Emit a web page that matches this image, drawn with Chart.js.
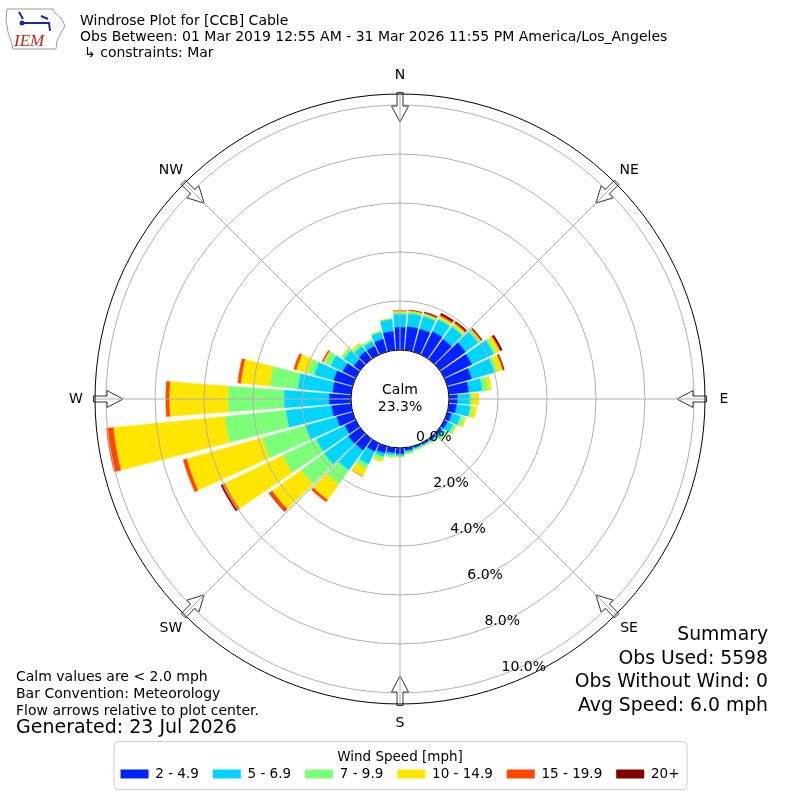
<!DOCTYPE html>
<html lang="en">
<head>
<meta charset="UTF-8">
<title>Windrose Plot for [CCB] Cable</title>
<script src="https://cdn.jsdelivr.net/npm/chart.js"></script>
<style>
  html, body { margin: 0; padding: 0; background: #fff; }
</style>
</head>
<body>
<canvas id="rose" width="800" height="800"></canvas>
<script>
  // direction bins (degrees, bar centres) and speed classes
  const directions = [0, 10, 20, 30, 40, 50, 60, 70, 80, 90, 100, 110, 120, 130, 140, 150, 160, 170,
                      180, 190, 200, 210, 220, 230, 240, 250, 260, 270, 280, 290, 300, 310, 320, 330, 340, 350];
  const speedBins = ['2 - 4.9', '5 - 6.9', '7 - 9.9', '10 - 14.9', '15 - 19.9', '20+'];
  const binColors = ['#0022ff', '#00d4ff', '#7cff79', '#ffe600', '#ff4700', '#800000'];

  // frequency (%) per direction, one array per speed class
  const spd2to5   = [0.92, 0.96, 0.96, 1.05, 1.00, 1.29, 1.25, 1.03, 0.81, 0.34, 0.31, 0.18, 0.14, 0.10, 0.08, 0.06, 0.06, 0.10,
                     0.23, 0.20, 0.29, 0.37, 0.57, 0.59, 0.49, 0.68, 0.79, 0.88, 0.75, 0.80, 0.58, 0.31, 0.39, 0.39, 0.53, 0.77];
  const spd5to7   = [0.53, 0.53, 0.53, 0.53, 0.62, 0.62, 0.98, 0.96, 0.55, 0.50, 0.55, 0.37, 0.25, 0.16, 0.06, 0.04, 0.04, 0.08,
                     0.08, 0.10, 0.14, 0.58, 1.00, 1.21, 1.29, 1.31, 1.87, 1.84, 1.43, 0.82, 0.55, 0.49, 0.25, 0.21, 0.29, 0.48];
  const spd7to10  = [0.08, 0.08, 0.08, 0.08, 0.08, 0.08, 0.12, 0.14, 0.24, 0.11, 0.10, 0.16, 0.12, 0.08, 0.06, 0.04, 0.06, 0.06,
                     0.04, 0.08, 0.12, 0.20, 0.70, 1.16, 1.52, 1.84, 2.50, 2.28, 1.14, 0.29, 0.29, 0.12, 0.12, 0.06, 0.06, 0.04];
  const spd10to15 = [0.04, 0.04, 0.04, 0.08, 0.08, 0.06, 0.16, 0.21, 0.15, 0.27, 0.18, 0.09, 0.05, 0.04, 0.02, 0.02, 0.02, 0.02,
                     0.04, 0.02, 0.12, 0.34, 0.78, 1.45, 2.63, 3.20, 4.58, 2.40, 1.19, 0.47, 0.04, 0.04, 0.07, 0.02, 0.02, 0.02];
  const spd15to20 = [0.04, 0.02, 0.04, 0.06, 0.06, 0.04, 0.04, 0.04, 0, 0, 0, 0, 0, 0, 0, 0, 0, 0,
                     0, 0, 0, 0.02, 0.12, 0.15, 0.12, 0.16, 0.30, 0.16, 0.14, 0.12, 0.07, 0, 0, 0, 0, 0];
  const spd20up   = [0, 0.02, 0.04, 0.08, 0.06, 0.04, 0.08, 0.04, 0, 0, 0, 0, 0, 0, 0, 0, 0, 0,
                     0, 0, 0, 0, 0, 0.02, 0.06, 0, 0, 0, 0, 0, 0, 0, 0, 0, 0, 0];

  const radialTicks = [0, 2, 4, 6, 8, 10];
  const compassNames = ['N', 'NE', 'E', 'SE', 'S', 'SW', 'W', 'NW'];
  const calmPct = 23.3;

  const headerLines = [
    'Windrose Plot for [CCB] Cable',
    'Obs Between: 01 Mar 2019 12:55 AM - 31 Mar 2026 11:55 PM America/Los_Angeles',
    '\u21b3 constraints: Mar'
  ];
  const footNotes = ['Calm values are < 2.0 mph', 'Bar Convention: Meteorology', 'Flow arrows relative to plot center.'];
  const generatedText = 'Generated: 23 Jul 2026';
  const summaryLines = ['Summary', 'Obs Used: 5598', 'Obs Without Wind: 0', 'Avg Speed: 6.0 mph'];

  const FONT = "'DejaVu Sans', sans-serif";
  const BAR_GAP = 1.4;       // degrees of white between neighbouring bars
  const GRID = '#b0b0b0';

  // stacked bars: each dataset holds the running total, base = previous total
  const series = [spd2to5, spd5to7, spd7to10, spd10to15, spd15to20, spd20up];
  const running = directions.map(() => 0);
  const datasets = series.map((vals, k) => {
    const base = running.slice();
    vals.forEach((v, i) => { running[i] += v; });
    return {
      label: speedBins[k],
      data: running.map(v => +v.toFixed(3)),
      base: base,
      backgroundColor: binColors[k],
      borderColor: binColors[k],
      borderWidth: (c) => (series[k][c.dataIndex] > 0 ? 0.5 : 0)
    };
  });

  const rad = (deg) => deg * Math.PI / 180;

  // turn the polar-area wedges into narrow stacked bars
  const stackedBars = {
    id: 'stackedBars',
    afterDatasetUpdate(chart, args) {
      const scale = chart.scales.r;
      const ds = chart.data.datasets[args.index];
      const half = rad((360 / directions.length - BAR_GAP) / 2);
      args.meta.data.forEach((arc, i) => {
        const mid = (arc.startAngle + arc.endAngle) / 2;
        arc.startAngle = mid - half;
        arc.endAngle = mid + half;
        arc.innerRadius = scale.getDistanceFromCenterForValue(ds.base[i]);
      });
    }
  };

  function drawArrow(ctx, cx, cy, theta, R) {
    const ux = Math.sin(theta), uy = -Math.cos(theta);
    const vx = -uy, vy = ux;
    const pts = [[R + 1.5, -3], [R - 12, -3], [R - 12, -8.5], [R - 28, 0], [R - 12, 8.5], [R - 12, 3], [R + 1.5, 3]];
    ctx.beginPath();
    pts.forEach(([d, w], k) => {
      const x = cx + ux * d + vx * w, y = cy + uy * d + vy * w;
      if (k) ctx.lineTo(x, y); else ctx.moveTo(x, y);
    });
    ctx.closePath();
    ctx.fillStyle = '#fff';
    ctx.fill();
    ctx.strokeStyle = '#333';
    ctx.lineWidth = 1;
    ctx.stroke();
  }

  function drawLogo(ctx) {
    ctx.save();
    ctx.strokeStyle = '#9a9a9a';
    ctx.lineWidth = 1;
    const outline = [[7, 9], [53, 9], [55, 13], [61, 18], [65, 26], [61, 33], [57, 41], [56, 49], [13, 49], [11, 41], [8, 32], [6, 20]];
    ctx.beginPath();
    outline.forEach(([x, y], k) => (k ? ctx.lineTo(x, y) : ctx.moveTo(x, y)));
    ctx.closePath();
    ctx.stroke();
    ctx.strokeStyle = '#1a2a9c';
    ctx.lineWidth = 2;
    ctx.beginPath();
    ctx.moveTo(22, 23); ctx.lineTo(50, 23);
    ctx.moveTo(19, 12); ctx.lineTo(23, 19);
    ctx.moveTo(41, 16); ctx.lineTo(48, 19);
    ctx.moveTo(49, 23); ctx.lineTo(50, 31);
    ctx.stroke();
    ctx.fillStyle = '#1a2a9c';
    ctx.beginPath(); ctx.arc(22, 23, 2.5, 0, Math.PI * 2); ctx.fill();
    ctx.fillStyle = '#cc2020';
    ctx.font = 'italic 17px "Liberation Serif", serif';
    ctx.textAlign = 'left';
    ctx.textBaseline = 'alphabetic';
    ctx.fillText('IEM', 14, 46);
    ctx.restore();
  }

  // spokes, rim, arrows, labels, calm circle, texts
  const roseDecor = {
    id: 'roseDecor',
    afterDraw(chart) {
      const ctx = chart.ctx;
      const scale = chart.scales.r;
      const cx = scale.xCenter, cy = scale.yCenter, R = scale.drawingArea;
      const r0 = scale.getDistanceFromCenterForValue(0);
      ctx.save();

      compassNames.forEach((name, k) => drawArrow(ctx, cx, cy, rad(k * 45), R));

      ctx.strokeStyle = GRID;
      ctx.lineWidth = 1;
      compassNames.forEach((name, k) => {
        const t = rad(k * 45);
        ctx.beginPath();
        ctx.moveTo(cx + r0 * Math.sin(t), cy - r0 * Math.cos(t));
        ctx.lineTo(cx + R * Math.sin(t), cy - R * Math.cos(t));
        ctx.stroke();
      });

      ctx.strokeStyle = '#000';
      ctx.beginPath();
      ctx.arc(cx, cy, R, 0, Math.PI * 2);
      ctx.stroke();

      ctx.fillStyle = '#000';
      ctx.font = '14px ' + FONT;
      ctx.textAlign = 'center';
      ctx.textBaseline = 'middle';
      compassNames.forEach((name, k) => {
        const t = rad(k * 45);
        ctx.fillText(name, cx + (R + 19) * Math.sin(t), cy - (R + 19) * Math.cos(t));
      });

      // calm circle
      ctx.beginPath();
      ctx.arc(cx, cy, r0, 0, Math.PI * 2);
      ctx.fillStyle = '#fff';
      ctx.fill();
      ctx.strokeStyle = '#000';
      ctx.lineWidth = 1;
      ctx.stroke();
      ctx.fillStyle = '#000';
      ctx.fillText('Calm', cx, cy - 8.5);
      ctx.fillText(calmPct.toFixed(1) + '%', cx, cy + 8.5);

      // radial tick labels along ~160 deg, on top of everything
      const lt = rad(159.6);
      ctx.textAlign = 'left';
      radialTicks.forEach(v => {
        const r = scale.getDistanceFromCenterForValue(v);
        ctx.fillText(v.toFixed(1) + '%', cx + r * Math.sin(lt) - 1, cy - r * Math.cos(lt) - 7.5);
      });

      // legend frame
      const lg = chart.legend;
      if (lg && lg.legendHitBoxes.length) {
        const hb = lg.legendHitBoxes;
        const x0 = hb[0].left - 7;
        const x1 = hb[hb.length - 1].left + hb[hb.length - 1].width + 7;
        ctx.beginPath();
        ctx.roundRect(x0 + 0.5, lg.top + 37.5, x1 - x0, 48, 4);
        ctx.strokeStyle = '#cccccc';
        ctx.stroke();
      }

      // header
      drawLogo(ctx);
      ctx.fillStyle = '#000';
      ctx.font = '14px ' + FONT;
      ctx.textAlign = 'left';
      ctx.textBaseline = 'middle';
      ctx.fillText(headerLines[0], 80, 21);
      ctx.fillText(headerLines[1], 80, 37);
      ctx.fillText(headerLines[2], 84, 53.5);

      // footnotes
      footNotes.forEach((s, i) => ctx.fillText(s, 16, 677 + i * 17));
      ctx.font = '19px ' + FONT;
      ctx.fillText(generatedText, 16, 728.5);

      ctx.font = '18.8px ' + FONT;
      ctx.textAlign = 'right';
      summaryLines.forEach((s, i) => ctx.fillText(s, 768, 635 + i * 23.7));
      ctx.restore();
    }
  };

  Chart.defaults.font.family = FONT;
  Chart.defaults.color = '#000';

  new Chart(document.getElementById('rose'), {
    type: 'polarArea',
    data: { labels: directions, datasets: datasets },
    options: {
      responsive: false,
      animation: false,
      events: [],
      layout: { padding: { top: 94, left: 95, right: 95, bottom: 9.25 } },
      scales: {
        r: {
          min: -2,
          max: 10.45,
          startAngle: -5,
          ticks: { display: false, stepSize: 2, includeBounds: false },
          grid: {
            circular: true,
            z: 1,
            lineWidth: 1,
            color: (c) => (c.tick && c.tick.value < 0 ? 'rgba(0,0,0,0)' : GRID)
          },
          angleLines: { display: false },
          pointLabels: { display: false }
        }
      },
      plugins: {
        title: { display: false },
        tooltip: { enabled: false },
        legend: {
          position: 'bottom',
          title: {
            display: true,
            text: 'Wind Speed [mph]',
            color: '#000',
            font: { size: 13.5, lineHeight: '2.5px' },
            padding: { top: 46.75, bottom: 0 }
          },
          labels: {
            boxWidth: 28,
            boxHeight: 9,
            padding: 14,
            color: '#000',
            font: { size: 13.5 },
            generateLabels: (chart) => chart.data.datasets.map((ds, i) => ({
              text: ds.label,
              fillStyle: ds.backgroundColor,
              strokeStyle: ds.backgroundColor,
              lineWidth: 0,
              hidden: false,
              datasetIndex: i
            }))
          }
        }
      }
    },
    plugins: [stackedBars, roseDecor]
  });
</script>
</body>
</html>
